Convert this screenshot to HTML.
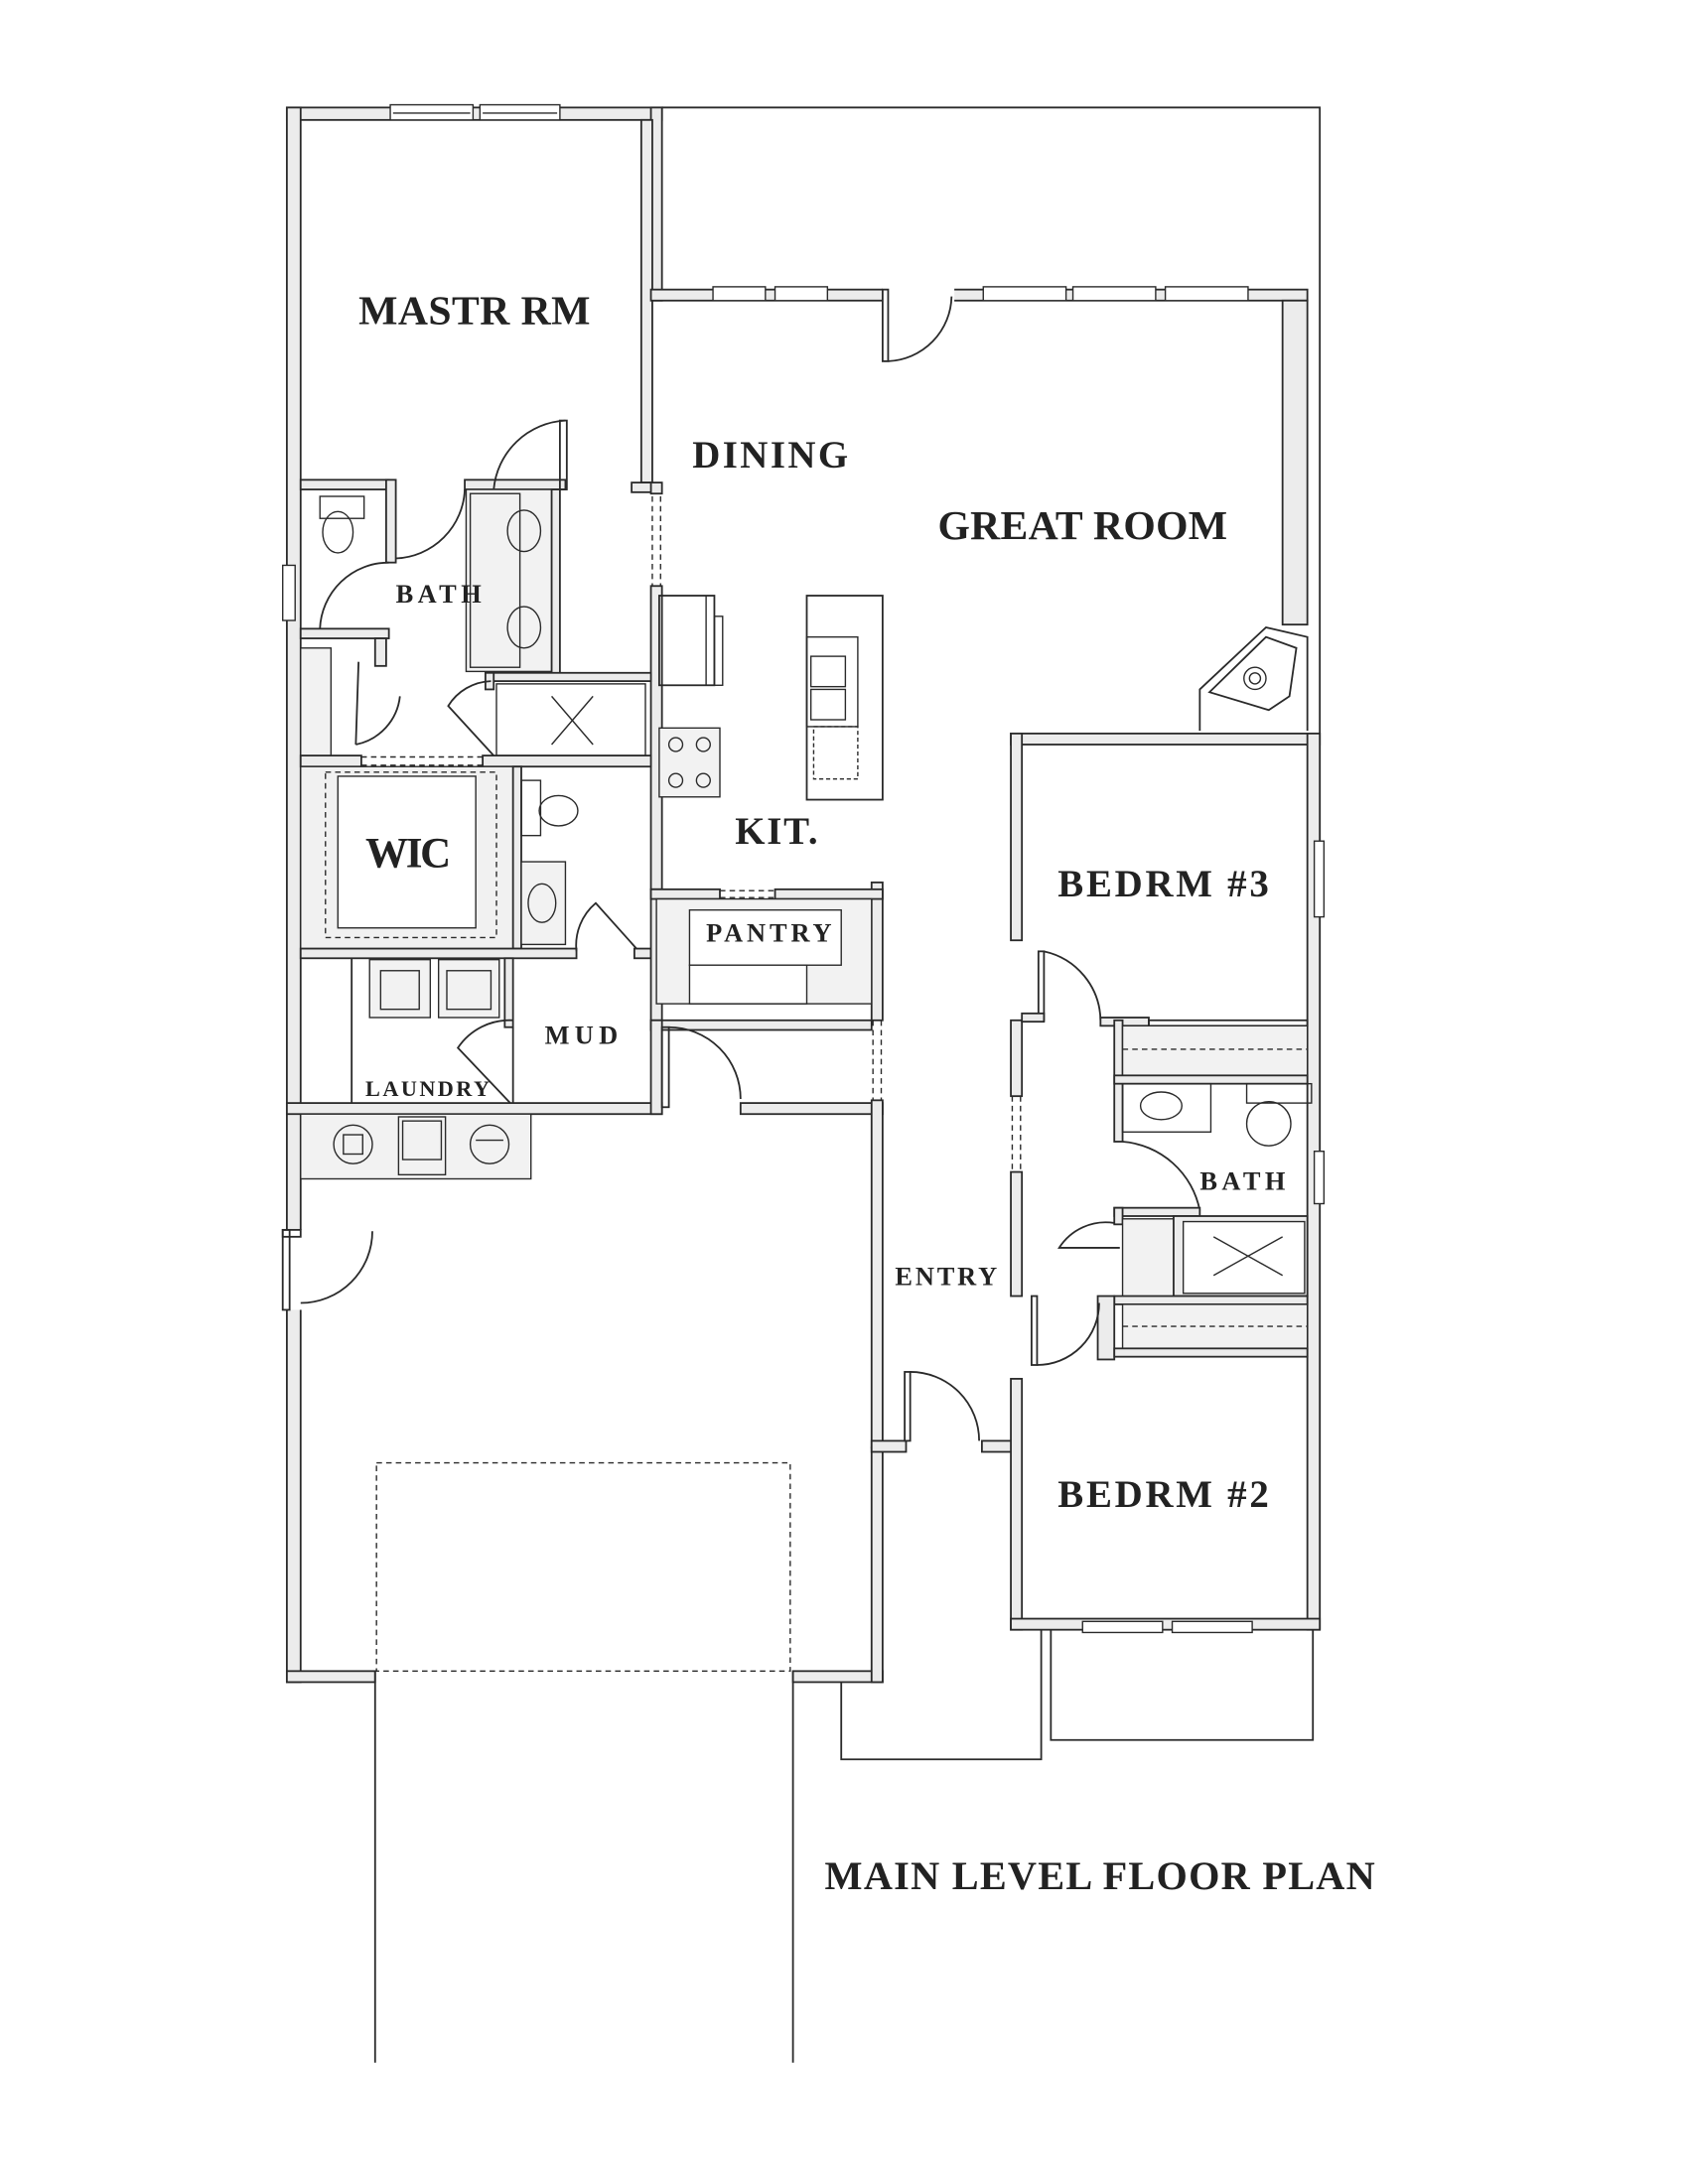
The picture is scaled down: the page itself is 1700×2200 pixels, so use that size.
<!DOCTYPE html>
<html><head><meta charset="utf-8"><style>
html,body{margin:0;padding:0;background:#fff;}
svg{display:block;}
.w{fill:#ececec;stroke:#2a2a2a;stroke-width:1.3;}
.l{fill:none;stroke:#2a2a2a;stroke-width:1.3;}
.t{fill:none;stroke:#2a2a2a;stroke-width:1;}
.d{fill:none;stroke:#2a2a2a;stroke-width:1;stroke-dasharray:4 3;}
.g{fill:#f2f2f2;stroke:#2a2a2a;stroke-width:1;}
.win{fill:#fff;stroke:#2a2a2a;stroke-width:1;}
text{font-family:"Liberation Serif",serif;fill:#222;font-weight:bold;}
</style></head><body>
<svg width="1700" height="2200" viewBox="0 0 1224 1584" xmlns="http://www.w3.org/2000/svg">
<polyline class="l" points="480,78 957,78 957,538"/>
<line class="l" x1="957" y1="538" x2="957" y2="1182"/>
<rect class="w" x="208" y="78" width="272" height="9"/>
<rect class="w" x="208" y="78" width="10" height="1142"/>
<rect class="w" x="472" y="78" width="8" height="140"/>
<rect class="w" x="465" y="87" width="8" height="263"/>
<rect class="win" x="283" y="76" width="60" height="11"/><line class="t" x1="285" y1="82" x2="341" y2="82"/>
<rect class="win" x="348" y="76" width="58" height="11"/><line class="t" x1="350" y1="82" x2="404" y2="82"/>
<rect class="win" x="205" y="410" width="9" height="40"/>
<rect class="w" x="472" y="210" width="476" height="8"/>
<rect class="win" x="517" y="208" width="38" height="10"/>
<rect class="win" x="562" y="208" width="38" height="10"/>
<rect class="win" x="713" y="208" width="60" height="10"/>
<rect class="win" x="778" y="208" width="60" height="10"/>
<rect class="win" x="845" y="208" width="60" height="10"/>
<rect x="640" y="209" width="52" height="10" fill="#fff"/>
<rect class="l" x="640" y="210" width="4" height="52"/>
<path class="l" d="M644,262 A48,48 0 0 0 690,215"/>
<rect class="w" x="930" y="218" width="18" height="235"/>
<path class="l" d="M870,530 L870,500 L918,455 L948,462 L948,530"/>
<path class="l" d="M877,502 L918,462 L940,470 L935,505 L920,515 Z"/>
<circle class="t" cx="910" cy="492" r="8"/><circle class="t" cx="910" cy="492" r="4"/>
<rect class="w" x="472" y="350" width="8" height="8"/>
<line class="d" x1="473" y1="360" x2="473" y2="425"/><line class="d" x1="479" y1="360" x2="479" y2="425"/>
<rect class="w" x="472" y="425" width="8" height="220"/>
<rect class="w" x="218" y="348" width="64" height="7"/>
<rect class="w" x="337" y="348" width="73" height="7"/>
<rect class="l" x="406" y="305" width="5" height="50"/>
<path class="l" d="M410,305 A55,55 0 0 0 358,355"/>
<rect class="w" x="458" y="350" width="14" height="7"/>
<rect class="w" x="280" y="348" width="7" height="60"/>
<path class="l" d="M287,405 A52,52 0 0 0 337,355"/>
<rect class="g" x="338" y="355" width="66" height="132"/>
<rect class="t" x="341" y="358" width="36" height="126"/>
<ellipse class="t" cx="380" cy="385" rx="12" ry="15"/><ellipse class="t" cx="380" cy="455" rx="12" ry="15"/>
<rect class="w" x="400" y="355" width="6" height="135"/>
<rect class="t" x="232" y="360" width="32" height="16"/><ellipse class="t" cx="245" cy="386" rx="11" ry="15"/>
<rect class="w" x="218" y="456" width="64" height="7"/>
<path class="l" d="M232,456 A50,50 0 0 1 282,408"/>
<rect class="w" x="272" y="463" width="8" height="20"/>
<path class="l" d="M260,480 L258,540 M258,540 A40,40 0 0 0 290,505"/>
<rect class="g" x="218" y="470" width="22" height="80"/>
<rect class="w" x="352" y="488" width="120" height="6"/>
<rect class="w" x="352" y="488" width="6" height="12"/>
<path class="l" d="M358,548 L325,512 A38,38 0 0 1 356,494"/>
<rect class="t" x="360" y="496" width="108" height="52"/>
<path class="t" d="M400,505 L430,540 M430,505 L400,540"/>
<rect class="w" x="218" y="548" width="44" height="8"/>
<line class="d" x1="262" y1="549" x2="350" y2="549"/><line class="d" x1="262" y1="555" x2="350" y2="555"/>
<rect class="w" x="350" y="548" width="122" height="8"/>
<rect x="218" y="556" width="154" height="132" fill="#f1f1f1" stroke="#2a2a2a" stroke-width="1"/>
<rect x="245" y="563" width="100" height="110" fill="#fff" stroke="#2a2a2a" stroke-width="1"/>
<rect class="d" x="236" y="560" width="124" height="120"/>
<rect class="w" x="372" y="556" width="6" height="132"/>
<rect class="t" x="378" y="566" width="14" height="40"/><ellipse class="t" cx="405" cy="588" rx="14" ry="11"/>
<rect class="g" x="378" y="625" width="32" height="60"/><ellipse class="t" cx="393" cy="655" rx="10" ry="14"/>
<rect class="w" x="218" y="688" width="200" height="7"/>
<path class="l" d="M418,690 A40,40 0 0 1 432,655 L466,693"/>
<rect class="w" x="460" y="688" width="12" height="7"/>
<line class="l" x1="255" y1="695" x2="255" y2="800"/>
<rect class="g" x="268" y="696" width="44" height="42"/><rect class="t" x="276" y="704" width="28" height="28"/>
<rect class="g" x="318" y="696" width="44" height="42"/><rect class="t" x="324" y="704" width="32" height="28"/>
<rect class="w" x="366" y="695" width="6" height="50"/>
<path class="l" d="M372,745 L372,800 M370,800 L332,760 A45,45 0 0 1 372,740"/>
<rect class="w" x="472" y="645" width="8" height="102"/>
<rect class="w" x="472" y="740" width="160" height="7"/>
<rect class="w" x="208" y="800" width="272" height="8"/>
<rect class="w" x="472" y="740" width="8" height="68"/>
<rect class="l" x="480" y="745" width="5" height="58"/>
<path class="l" d="M485,745 A52,52 0 0 1 537,797"/>
<rect class="w" x="537" y="800" width="103" height="8"/>
<rect class="w" x="632" y="640" width="8" height="100"/>
<line class="d" x1="633" y1="740" x2="633" y2="798"/><line class="d" x1="639" y1="740" x2="639" y2="798"/>
<rect class="w" x="632" y="798" width="8" height="252"/>
<rect class="g" x="218" y="808" width="167" height="47"/>
<circle class="t" cx="256" cy="830" r="14"/><rect class="t" x="249" y="823" width="14" height="14"/>
<rect class="g" x="289" y="810" width="34" height="42"/><rect class="t" x="292" y="813" width="28" height="28"/>
<circle class="t" cx="355" cy="830" r="14"/><line class="t" x1="345" y1="827" x2="365" y2="827"/>
<rect x="205" y="892" width="14" height="58" fill="#fff"/>
<rect class="l" x="205" y="892" width="13" height="5"/>
<path class="l" d="M218,945 A52,52 0 0 0 270,893"/>
<rect class="l" x="205" y="892" width="5" height="58"/>
<rect class="w" x="208" y="1212" width="64" height="8"/>
<rect class="w" x="575" y="1212" width="65" height="8"/>
<rect class="w" x="632" y="1050" width="8" height="170"/>
<rect class="d" x="273" y="1061" width="300" height="151"/>
<line class="l" x1="272" y1="1212" x2="272" y2="1496"/>
<line class="l" x1="575" y1="1212" x2="575" y2="1496"/>
<rect class="w" x="632" y="1045" width="25" height="8"/>
<rect class="w" x="712" y="1045" width="26" height="8"/>
<rect class="l" x="656" y="995" width="4" height="50"/>
<path class="l" d="M660,995 A50,50 0 0 1 710,1045"/>
<polyline class="l" points="610,1220 610,1276 755,1276 755,1182"/>
<polyline class="l" points="762,1182 762,1262 952,1262 952,1182"/>
<rect class="l" x="478" y="432" width="40" height="65"/><line class="t" x1="512" y1="432" x2="512" y2="497"/>
<rect class="t" x="518" y="447" width="6" height="50"/>
<rect class="g" x="478" y="528" width="44" height="50"/>
<circle class="t" cx="490" cy="540" r="5"/><circle class="t" cx="510" cy="540" r="5"/><circle class="t" cx="490" cy="566" r="5"/><circle class="t" cx="510" cy="566" r="5"/>
<rect class="l" x="585" y="432" width="55" height="148"/>
<rect class="t" x="585" y="462" width="37" height="65"/>
<rect class="t" x="588" y="476" width="25" height="22"/><rect class="t" x="588" y="500" width="25" height="22"/>
<rect class="t" x="590" y="527" width="32" height="38" stroke-dasharray="3 2"/>
<rect class="w" x="472" y="645" width="50" height="7"/>
<line class="d" x1="522" y1="646" x2="562" y2="646"/><line class="d" x1="522" y1="651" x2="562" y2="651"/>
<rect class="w" x="562" y="645" width="78" height="7"/>
<rect class="g" x="476" y="652" width="156" height="76"/>
<rect x="500" y="660" width="110" height="40" fill="#fff" stroke="#2a2a2a" stroke-width="1"/>
<rect x="500" y="700" width="85" height="28" fill="#fff" stroke="#2a2a2a" stroke-width="1"/>
<rect class="w" x="733" y="532" width="224" height="8"/>
<rect class="w" x="733" y="532" width="8" height="150"/>
<rect class="w" x="948" y="532" width="9" height="650"/>
<rect class="win" x="953" y="610" width="7" height="55"/>
<rect class="win" x="953" y="835" width="7" height="38"/>
<rect class="w" x="733" y="740" width="8" height="55"/>
<line class="d" x1="734" y1="795" x2="734" y2="850"/><line class="d" x1="740" y1="795" x2="740" y2="850"/>
<rect class="w" x="733" y="850" width="8" height="90"/>
<rect class="w" x="733" y="1000" width="8" height="182"/>
<rect class="w" x="733" y="1174" width="224" height="8"/>
<rect class="win" x="785" y="1176" width="58" height="8"/><rect class="win" x="850" y="1176" width="58" height="8"/>
<rect class="l" x="753" y="690" width="4" height="50"/>
<rect class="w" x="741" y="735" width="16" height="6"/>
<path class="l" d="M757,690 A52,52 0 0 1 798,740"/>
<rect class="w" x="798" y="738" width="35" height="6"/>
<rect class="l" x="833" y="740" width="115" height="4"/>
<rect class="w" x="808" y="740" width="6" height="88"/>
<rect class="g" x="814" y="744" width="134" height="36"/><line class="d" x1="814" y1="761" x2="948" y2="761"/>
<rect class="w" x="808" y="780" width="140" height="6"/>
<rect class="t" x="814" y="786" width="64" height="35"/><ellipse class="t" cx="842" cy="802" rx="15" ry="10"/>
<rect class="t" x="904" y="786" width="47" height="14"/><circle class="t" cx="920" cy="815" r="16"/>
<path class="l" d="M814,828 A62,62 0 0 1 870,878"/>
<rect class="w" x="808" y="876" width="62" height="6"/>
<rect class="w" x="808" y="876" width="6" height="12"/>
<rect class="g" x="814" y="884" width="40" height="58"/>
<rect class="w" x="851" y="882" width="97" height="58"/>
<rect x="858" y="886" width="88" height="52" fill="#fff" stroke="#2a2a2a" stroke-width="1"/>
<path class="t" d="M880,897 L930,925 M880,925 L930,897"/>
<path class="l" d="M812,905 L768,905 A40,40 0 0 1 808,887"/>
<rect class="w" x="808" y="940" width="140" height="6"/>
<rect class="w" x="796" y="940" width="12" height="46"/>
<rect class="g" x="814" y="946" width="134" height="32"/><line class="d" x1="814" y1="962" x2="948" y2="962"/>
<rect class="w" x="808" y="978" width="140" height="6"/>
<rect class="l" x="748" y="940" width="4" height="50"/>
<path class="l" d="M752,990 A45,45 0 0 0 797,945"/>
<text x="260" y="235" font-size="30" textLength="168">MASTR RM</text>
<text x="502" y="339" font-size="28" textLength="113">DINING</text>
<text x="680" y="391" font-size="30" textLength="210">GREAT ROOM</text>
<text x="287" y="437" font-size="19" textLength="62">BATH</text>
<text x="265" y="629" font-size="31" textLength="62">WIC</text>
<text x="533" y="612" font-size="28" textLength="60">KIT.</text>
<text x="512" y="683" font-size="19" textLength="91">PANTRY</text>
<text x="395" y="757" font-size="19" textLength="53">MUD</text>
<text x="265" y="795" font-size="16" textLength="90">LAUNDRY</text>
<text x="767" y="650" font-size="28" textLength="153">BEDRM #3</text>
<text x="870" y="863" font-size="19" textLength="62">BATH</text>
<text x="649" y="932" font-size="19" textLength="74">ENTRY</text>
<text x="767" y="1093" font-size="28" textLength="153">BEDRM #2</text>
<text x="598" y="1370" font-size="29" textLength="399">MAIN LEVEL FLOOR PLAN</text>
</svg>
</body></html>
